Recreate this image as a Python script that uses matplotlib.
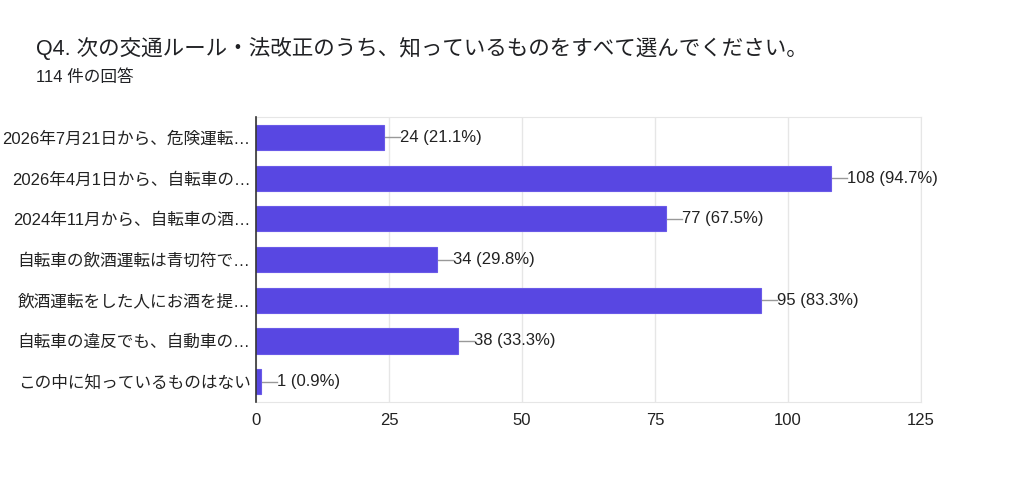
import matplotlib
matplotlib.use("Agg")
import matplotlib.pyplot as plt

plt.rcParams['font.family'] = ['Liberation Sans', 'Noto Sans CJK JP', 'DejaVu Sans']

title = "Q4. 次の交通ルール・法改正のうち、知っているものをすべて選んでください。"
subtitle = "114 件の回答"
categories = [
    "2026年7月21日から、危険運転…",
    "2026年4月1日から、自転車の…",
    "2024年11月から、自転車の酒…",
    "自転車の飲酒運転は青切符で…",
    "飲酒運転をした人にお酒を提…",
    "自転車の違反でも、自動車の…",
    "この中に知っているものはない",
]
values = [24, 108, 77, 34, 95, 38, 1]
percents = ["21.1%", "94.7%", "67.5%", "29.8%", "83.3%", "33.3%", "0.9%"]
xticks = [0, 25, 50, 75, 100, 125]

fig = plt.figure(figsize=(10.24, 4.86), dpi=100)
ax = fig.add_axes([0.25, 0.173, 0.6494, 0.586])

y = list(range(len(categories)))
bar_color = '#5847e2'
ax.barh(y, values, height=0.62, color=bar_color, edgecolor='#6a5ae8', linewidth=0.8, zorder=3)
ax.set_ylim(len(categories) - 0.5, -0.5)
ax.set_xlim(0, 125)
ax.set_xticks(xticks)
ax.set_xticklabels([str(t) for t in xticks], fontsize=12, color='#222222')
ax.set_yticks(y)
ax.set_yticklabels(categories, fontsize=12, color='#222222')
ax.tick_params(axis='both', length=0, pad=4)
ax.tick_params(axis='x', pad=8)
ax.grid(axis='x', color='#e6e6e6', linewidth=1, zorder=0)
for s in ['top', 'right', 'bottom']:
    ax.spines[s].set_color('#e6e6e6')
ax.spines['left'].set_color('#333333')
ax.spines['left'].set_linewidth(1.2)
ax.spines['left'].set_zorder(4)

for yi, v, p in zip(y, values, percents):
    ax.plot([v, v + 3.0], [yi, yi], color='#999999', linewidth=1, zorder=2, clip_on=False)
    ax.text(v + 3.0, yi, f"{v} ({p})", va='center', ha='left', fontsize=12, color='#222222')

fig.text(36/1024, 1 - 48/486, title, fontsize=15.5, va='center', ha='left', color='#202124')
fig.text(36/1024, 1 - 77/486, subtitle, fontsize=12, va='center', ha='left', color='#202124')

fig.savefig("out.png", dpi=100, facecolor='white')
